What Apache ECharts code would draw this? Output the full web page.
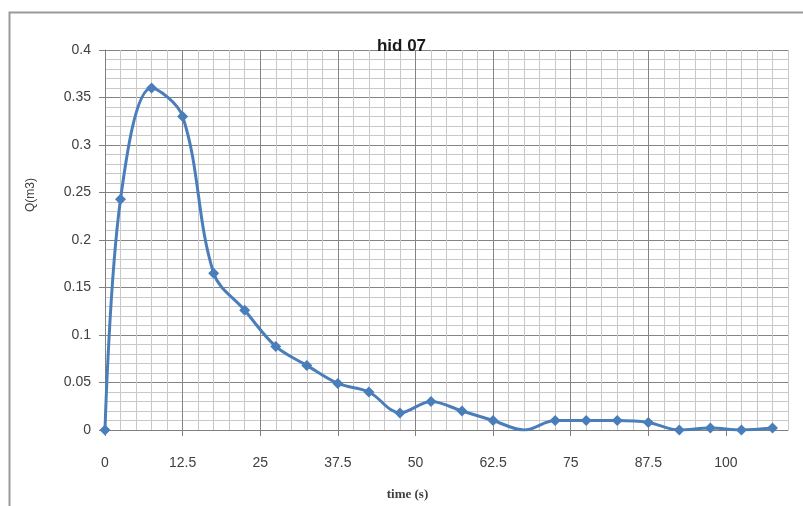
<!DOCTYPE html>
<html>
<head>
<meta charset="utf-8">
<script src="https://cdn.jsdelivr.net/npm/echarts@6/dist/echarts.min.js"></script>
<style>
html,body{margin:0;padding:0;background:#fff;}
#chart{width:803px;height:506px;}
</style>
</head>
<body>
<div id="chart"></div>
<script>
// Data
const timeValues = [0, 2.5, 7.5, 12.5, 17.5, 22.5, 27.5, 32.5, 37.5, 42.5, 47.5, 52.5, 57.5, 62.5, 67.5, 72.5, 77.5, 82.5, 87.5, 92.5, 97.5, 102.5, 107.5];
const flowValues = [0, 0.243, 0.36, 0.33, 0.165, 0.126, 0.088, 0.068, 0.049, 0.04, 0.018, 0.03, 0.02, 0.01, 0, 0.01, 0.01, 0.01, 0.008, 0, 0.002, 0, 0.002];
const hiddenMarkerTimes = [67.5];
const xTickLabels = [0, 12.5, 25, 37.5, 50, 62.5, 75, 87.5, 100];
const yTickLabels = [0, 0.05, 0.1, 0.15, 0.2, 0.25, 0.3, 0.35, 0.4];

const seriesData = timeValues.map((t, i) => {
  const item = { value: [t, flowValues[i]] };
  if (hiddenMarkerTimes.indexOf(t) >= 0) item.symbolSize = 0;
  return item;
});

const chart = echarts.init(document.getElementById('chart'));
const labelFont = { fontFamily: 'Liberation Sans', fontSize: 14, color: '#404040' };

chart.setOption({
  animation: false,
  backgroundColor: '#fff',
  graphic: [{
    type: 'rect',
    shape: { x: 9.5, y: 12.5, width: 820, height: 520 },
    style: { fill: 'none', stroke: '#9a9a9a', lineWidth: 2 },
    silent: true
  }],
  title: {
    text: 'hid 07',
    left: 'center',
    top: 33,
    textStyle: { fontFamily: 'Liberation Sans', fontWeight: 'bold', fontSize: 17, color: '#1a1a1a' }
  },
  grid: { left: 105, right: 15, top: 50, bottom: 71, containLabel: false },
  xAxis: [
    {
      type: 'value', min: 0, max: 110, interval: 2.5, position: 'bottom',
      axisLine: { show: false }, axisTick: { show: false }, axisLabel: { show: false },
      splitLine: { show: true, lineStyle: { color: '#c8c8c8', width: 1 } }
    },
    {
      type: 'value', min: 0, max: 110, interval: 12.5, position: 'bottom',
      name: 'time (s)', nameLocation: 'middle', nameGap: 58,
      nameTextStyle: { fontFamily: 'Liberation Serif', fontSize: 13, fontWeight: 'bold', color: '#404040', padding: [0, 78, 0, 0] },
      axisLine: { show: true, onZero: false, lineStyle: { color: '#808080', width: 1 } },
      axisTick: { show: true, inside: false, length: 6, customValues: xTickLabels, lineStyle: { color: '#808080' } },
      axisLabel: Object.assign({ margin: 26, customValues: xTickLabels }, labelFont),
      splitLine: { show: true, showMaxLine: false, lineStyle: { color: '#848484', width: 1 } }
    }
  ],
  yAxis: {
    type: 'value', min: 0, max: 0.4, interval: 0.05,
    name: 'Q(m3)', nameLocation: 'middle', nameGap: 68, nameRotate: 90,
    nameTextStyle: { fontFamily: 'Liberation Sans', fontSize: 12, color: '#404040', padding: [0, 0, 0, 90] },
    axisLine: { show: true, lineStyle: { color: '#808080', width: 1 } },
    axisTick: { show: true, inside: false, length: 6, customValues: yTickLabels, lineStyle: { color: '#808080' } },
    axisLabel: Object.assign({ margin: 14, customValues: yTickLabels }, labelFont),
    splitLine: { show: true, lineStyle: { color: '#848484', width: 1 } },
    minorTick: { show: false, splitNumber: 5 },
    minorSplitLine: { show: true, lineStyle: { color: '#c8c8c8', width: 1 } }
  },
  series: [{
    type: 'line',
    xAxisIndex: 1,
    data: seriesData,
    smooth: 0.35,
    symbol: 'diamond',
    symbolSize: 11,
    clip: true,
    lineStyle: { color: '#4a7ebb', width: 3 },
    itemStyle: { color: '#4a7ebb' }
  }]
});
</script>
</body>
</html>
